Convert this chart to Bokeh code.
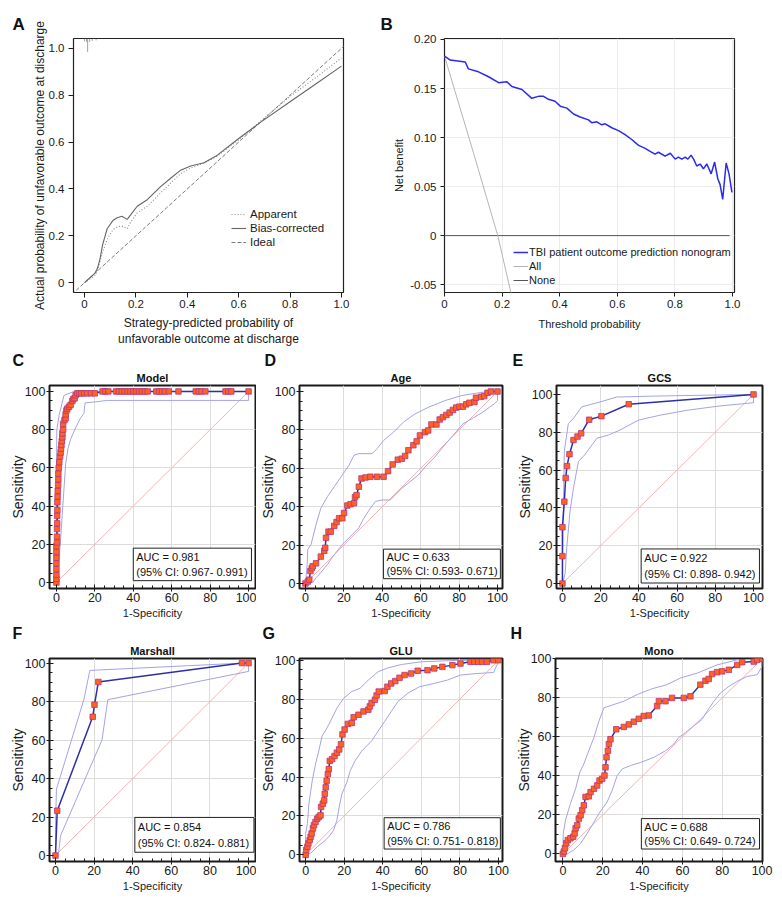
from bokeh.plotting import figure
from bokeh.layouts import column, row
from bokeh.models import (Label, BoxAnnotation, Legend, LegendItem, FixedTicker,
                          CustomJSTickFormatter, Range1d, Title)
from bokeh.embed import file_html
from bokeh.resources import INLINE

FONT = "Liberation Sans"

# ---------------- Panel A: calibration ----------------
A_app_x = [0, 0.02, 0.04, 0.05, 0.06, 0.07, 0.09, 0.11, 0.13, 0.15, 0.166, 0.18, 0.205, 0.244,
           0.296, 0.34, 0.374, 0.413, 0.465, 0.517, 0.6, 0.686, 0.8, 0.9, 1.0]
A_app_y = [0, 0.015, 0.03, 0.05, 0.09, 0.13, 0.19, 0.225, 0.24, 0.24, 0.23, 0.26, 0.298, 0.326,
           0.383, 0.43, 0.465, 0.49, 0.51, 0.54, 0.61, 0.69, 0.795, 0.875, 0.959]
A_bias_x = [0, 0.02, 0.04, 0.05, 0.06, 0.07, 0.088, 0.11, 0.127, 0.145, 0.166, 0.18, 0.205, 0.244,
            0.296, 0.34, 0.374, 0.413, 0.465, 0.517, 0.6, 0.686, 0.8, 0.9, 1.0]
A_bias_y = [0, 0.02, 0.04, 0.06, 0.10, 0.16, 0.23, 0.265, 0.277, 0.283, 0.27, 0.29, 0.326, 0.354,
            0.41, 0.45, 0.48, 0.498, 0.512, 0.544, 0.615, 0.685, 0.772, 0.848, 0.924]
A_ideal_x = [-0.05, 1.05]
A_ideal_y = [-0.05, 1.05]
A_rug_x = [0.0, 0.008, 0.012, 0.02, 0.03, 0.045]
A_rug_h = [0.012, 0.015, 0.058, 0.015, 0.01, 0.008]
A_ticks = [0, 0.2, 0.4, 0.6, 0.8, 1.0]

# ---------------- Panel B: decision curve ----------------
B_thr = [0, 0.02, 0.072, 0.083, 0.118, 0.153, 0.188, 0.216, 0.234, 0.269, 0.303, 0.326, 0.344,
         0.361, 0.384, 0.402, 0.425, 0.448, 0.471, 0.5, 0.512, 0.529, 0.546, 0.558, 0.581, 0.604,
         0.627, 0.65, 0.674, 0.697, 0.714, 0.731, 0.743, 0.766, 0.784, 0.801, 0.812, 0.824, 0.836,
         0.845, 0.856, 0.865, 0.876, 0.888, 0.899, 0.911, 0.926, 0.938, 0.949, 0.957, 0.966, 0.978,
         0.988, 0.998]
B_nb = [0.183, 0.179, 0.177, 0.170, 0.167, 0.162, 0.156, 0.157, 0.152, 0.149, 0.140, 0.142, 0.142,
        0.139, 0.137, 0.132, 0.130, 0.124, 0.121, 0.118, 0.115, 0.116, 0.113, 0.114, 0.110, 0.107,
        0.103, 0.098, 0.092, 0.089, 0.086, 0.083, 0.085, 0.081, 0.084, 0.078, 0.080, 0.078, 0.080,
        0.078, 0.082, 0.078, 0.071, 0.073, 0.068, 0.073, 0.063, 0.075, 0.058, 0.052, 0.037, 0.074,
        0.063, 0.044]
B_all_x = [0, 0.1, 0.185, 0.232]
B_all_y = [0.183, 0.085, 0.0, -0.060]
B_none_x = [0, 0.99]
B_none_y = [0, 0]
B_xticks = [0, 0.2, 0.4, 0.6, 0.8, 1.0]
B_yticks = [-0.05, 0, 0.05, 0.10, 0.15, 0.20]

# ---------------- ROC panels ----------------
ROC_ticks = [0, 20, 40, 60, 80, 100]
ROC_minor = list(range(0, 101, 5))
ROC_grid = [20, 40, 60, 80]
DIAG = [0, 100]

C_fpr = [0, 0, 0, 0, 0, 0, 0, 0,
         0.3, 0.3, 0.3, 0.4, 0.4, 0.5, 0.5, 0.6, 0.7, 0.9,
         1.0, 1.0, 1.2, 1.5, 1.9, 2.2, 2.4, 2.6, 2.8, 3.1,
         3.1, 3.5, 3.5, 4.2, 4.8, 4.8, 5.2, 5.7, 6.6, 7.4,
         8.3, 8.8, 9.5, 10.0, 10.9,
         12, 13, 14.5, 16, 18, 20,
         24, 25.5, 27, 31, 32.5, 34, 35.5, 37, 38.5, 40, 41.5, 43, 44.5, 46, 47.5,
         52, 53.5, 55, 56.5, 58.5, 63.5,
         72.5, 74, 75.5, 77.5,
         88, 89.5, 91, 100]
C_tpr = [0, 2, 4, 7, 10, 13, 16, 19,
         21, 24, 28, 31, 35, 38, 42, 45, 48, 51,
         54, 57, 60, 63, 66, 68, 70, 72, 74, 76,
         78, 80, 83, 85, 86, 88, 90, 91, 92, 93,
         95, 96, 96.5, 98, 99,
         99, 99, 99, 99, 99, 99,
         100, 100, 100, 100, 100, 100, 100, 100, 100, 100, 100, 100, 100, 100, 100,
         100, 100, 100, 100, 100, 100,
         100, 100, 100, 100,
         100, 100, 100, 100]
C_up_x = [0, 0, 0.2, 1.4, 3.9, 9.1, 100]
C_up_y = [0, 50, 80, 87.5, 97.9, 100, 100]
C_lo_x = [0, 1, 2, 3, 4, 4.8, 6, 7.4, 10, 12.5, 14.3, 14.9, 20, 26.5, 100, 100]
C_lo_y = [0, 8, 20, 35, 50, 62, 70, 75, 81, 86, 88.4, 94, 94.5, 95.3, 95.3, 100]

D_fpr = [0, 1.2, 2, 2.6, 3.3, 3.8, 5.5, 8, 9.8, 10.3, 10.7, 12, 13.2, 15, 16.2, 17.5, 19.2, 20.1,
         21.8, 23.5, 25.3, 25.8, 26.6, 27.8, 29.2, 31.3, 33.8, 37.3, 40.7, 43, 45.4, 48.1, 50.2,
         51.9, 53.6, 56.2, 57.9, 59.6, 62.2, 63.9, 65.6, 68.2, 69.9, 71.6, 73.4, 75.1, 76.8, 78.5,
         80.2, 82, 83.7, 85.4, 88, 88.8, 91.4, 93.1, 94.8, 96.6, 100]
D_tpr = [0, 1, 2, 6.5, 8, 9, 10.5, 14, 17, 18.6, 23.8, 27, 27, 30, 32, 34, 34, 36.7,
         40.6, 41.3, 41.8, 45, 46, 50.4, 54.7, 55.2, 55.6, 55.6, 55.6, 58.5, 62, 64.5, 65,
         66.4, 69.4, 72, 74, 77.1, 78.8, 79.7, 82.8, 82.8, 85.4, 86.6, 87.8, 89, 90.4, 91.6,
         92.1, 92.1, 93.3, 94.1, 94.5, 96.7, 97.2, 97.6, 99.3, 100, 100]
D_up_x = [0, 0.9, 1.2, 2.9, 5.5, 8, 11.5, 15, 19.2, 22.7, 25.3, 27.8, 34.7, 37.3, 40.7, 45.9, 51,
          57, 63.9, 72.5, 81.1, 91.4, 98.3, 100]
D_up_y = [0, 10, 17.7, 20.3, 30.6, 39.2, 45.3, 50.4, 56.5, 61.6, 66.8, 67.6, 67.6, 70.2, 74.5,
          78.8, 84, 88.3, 91.7, 95.2, 97.8, 99.5, 100, 100]
D_lo_x = [0, 3.8, 5.5, 8, 11.5, 15, 19.2, 23.5, 27.8, 30.4, 33.8, 36.4, 39.9, 44.2, 46.7, 50.2,
          54.5, 58.8, 63.1, 67.4, 71.6, 76.8, 82, 88, 92.3, 95.7, 98.3, 100, 100]
D_lo_y = [0, 0.5, 3, 5.7, 10, 15, 20.3, 24.6, 29, 34, 39.2, 42.7, 43.5, 43.5, 46.1, 49.6, 53,
          56.5, 61.6, 65.9, 71.1, 77.1, 83.1, 86.6, 89.2, 91.7, 93.5, 95.2, 100]

E_fpr = [0, 0, 0, 1.0, 1.7, 2.4, 3.7, 5.8, 7.9, 9.8, 14, 20.4, 34.7, 100]
E_tpr = [0, 14.5, 29.8, 43.3, 55.8, 62.1, 68.4, 75.9, 77.7, 79.4, 86.6, 88.5, 94.8, 100]
E_up_x = [0, 0.2, 1, 3.1, 5.8, 10.1, 19.7, 28.4, 47.6, 100]
E_up_y = [0, 21, 70, 84.6, 87.3, 93.4, 96, 98.6, 99.1, 100]
E_lo_x = [0, 1.4, 2.3, 4, 5.8, 8.4, 11, 13.6, 18, 24.1, 30.2, 39.8, 51.1, 65.1, 82.5, 100, 100]
E_lo_y = [0, 5.2, 19.2, 38.4, 50.6, 64.6, 67.2, 70.7, 76.8, 78.5, 81.2, 86.4, 89, 91.6, 93.9,
          95.6, 100]

F_fpr = [0, 0.9, 19.3, 20.2, 22.2, 96.6, 100]
F_tpr = [0, 23.3, 72.1, 78.4, 90.2, 100, 100]
F_up_x = [0, 0, 0.5, 14.7, 17.8, 96.6, 100]
F_up_y = [0, 15.5, 34.5, 81, 96.2, 100, 100]
F_lo_x = [0, 1.7, 2.6, 24.1, 27.1, 100, 100]
F_lo_y = [0, 1.7, 10.3, 60, 81, 95.7, 100]

G_fpr = [0, 0.3, 0.9, 1.4, 2.1, 2.6, 3.1, 3.8, 4.3, 5.1, 6, 6.8, 7.7, 8.0, 8.9, 9.6, 9.9, 10.4,
         10.9, 11.5, 12, 12.5, 13.7, 15, 16.2, 17.4, 18.3, 19.1, 20.2, 21.9, 23.9, 24.9, 27.4,
         30, 32.5, 33.3, 34.2, 35.9, 36.8, 37.9, 41, 42.4, 44.4, 46.5, 48.7, 51.3, 54.7, 58.1,
         63.2, 66.7, 70.9, 76.1, 80.3, 85.5, 87.5, 89.5, 91.5, 94, 97.4, 100]
G_tpr = [0, 2.5, 4.2, 5.9, 7.6, 9.3, 11, 13.6, 15.3, 16.9, 18.6, 19.5, 20.3, 24.6, 26.3, 28,
         31.4, 34.7, 38.1, 41.5, 44.1, 48.3, 49.2, 50.8, 52.5, 54.2, 56.8, 61.9, 64.4, 67.3,
         67.8, 70.7, 72, 73.7, 74.6, 76.3, 78, 79.7, 81.9, 83.9, 84.2, 86.4, 88.1, 89.3, 91,
         92.4, 93.2, 94.6, 94.9, 95.8, 96.6, 97.5, 98.3, 99.2, 99.2, 99.2, 99.2, 99.2, 100, 100]
G_up_x = [0, 0, 0.9, 1.7, 3.4, 5.1, 6.8, 8.5, 11.1, 13.7, 16.2, 19.7, 23.9, 28.2, 32.5, 37.6,
          42.7, 49.6, 59.8, 80.3, 100]
G_up_y = [0, 11, 16.1, 26.3, 38.1, 46.6, 53.4, 61, 65.3, 70.3, 75.4, 80.5, 83.9, 85.6, 89.8,
          94.1, 96.1, 97.8, 99.2, 100, 100]
G_lo_x = [0, 2.6, 6, 9.4, 12, 14.5, 16.2, 17.4, 18.8, 21.4, 23.1, 25.6, 29.1, 34.2, 37.6, 41,
          44.4, 47.9, 53, 59, 66.7, 73.5, 80.3, 88.9, 97.4, 100, 100]
G_lo_y = [0, 0.8, 4.2, 6.8, 9.3, 12.7, 17.8, 24.6, 31.4, 37.3, 43.2, 48.3, 53.4, 58.5, 63.6,
          68.6, 73.7, 78.8, 83.1, 86.4, 88.1, 89.8, 92.4, 93.2, 93.7, 99.2, 100]

H_fpr = [0, 0.5, 1, 1.7, 2.5, 3.8, 5.2, 5.9, 6.4, 7.2, 8, 8.9, 9.7, 10.5, 11.4, 13, 13.9, 15.6,
         17.2, 18.4, 19.7, 20.9, 21.4, 21.9, 22.6, 23.1, 23.9, 26.8, 30.6, 33.1, 35.6, 38.1,
         40.6, 43.1, 47.3, 48.2, 51.5, 54.8, 60.7, 64, 69, 71.6, 73.2, 74.9, 77.4, 79.9, 83.3,
         87.5, 90, 95.8, 97.5, 100]
H_tpr = [0, 1.2, 2.9, 5.4, 7.1, 8, 8.8, 10.5, 13.1, 14.7, 18.1, 19.8, 22.4, 24.9, 29.2, 29.5,
         31.7, 33.4, 35.1, 37.6, 38.5, 40.2, 44.4, 49.5, 52.9, 56.3, 58.8, 63.9, 65.1, 66.4,
         67.8, 69.3, 70.7, 71, 75.8, 78.3, 78.3, 80, 80, 80.8, 86.8, 88.8, 89.7, 92.2, 93.2,
         93.6, 94.4, 96.9, 98.3, 98.6, 99.5, 100]
H_up_x = [0, 0.2, 1.3, 3.8, 6.4, 8.5, 10.5, 13, 15.6, 18.1, 20.6, 24.7, 30.6, 37.3, 44.8, 52.3,
          59, 67.4, 77.4, 87.5, 100]
H_up_y = [0, 10.5, 17.3, 25.8, 33.4, 41.9, 46.1, 52.9, 59.7, 68.1, 74.9, 76.3, 78.3, 81.7,
          84.7, 86.8, 90.2, 92.7, 96.9, 99.5, 100]
H_lo_x = [0, 2.2, 5.5, 8.9, 12.2, 14.7, 18.1, 22.2, 24.7, 27.3, 29.8, 34, 39, 45.7, 51.5, 55.7,
          58.2, 61.5, 65.7, 69.9, 72.4, 75.8, 79.1, 83.3, 87.5, 92.5, 97.5, 100, 100]
H_lo_y = [0, 0, 2, 5.4, 10.5, 14.7, 20.7, 26.6, 32.5, 40.2, 43.6, 45.3, 46.9, 49.5, 52.9, 56.3,
          59.7, 62.2, 65.6, 69, 73.2, 78.3, 82.5, 85.9, 88.5, 91, 91.9, 96.1, 100]

AUC_text = {"C": ("AUC = 0.981", "(95% CI: 0.967- 0.991)"),
            "D": ("AUC = 0.633", "(95% CI: 0.593- 0.671)"),
            "E": ("AUC = 0.922", "(95% CI: 0.898- 0.942)"),
            "F": ("AUC = 0.854", "(95% CI: 0.824- 0.881)"),
            "G": ("AUC = 0.786", "(95% CI: 0.751- 0.818)"),
            "H": ("AUC = 0.688", "(95% CI: 0.649- 0.724)")}


def base_fig(width, height, left, top, frame_w, frame_h, xr, yr, title=None):
    p = figure(width=width, height=height, x_range=Range1d(*xr), y_range=Range1d(*yr),
               output_backend="svg", toolbar_location=None, title=title,
               min_border_left=left, min_border_top=top,
               min_border_right=width - left - frame_w,
               min_border_bottom=height - top - frame_h)
    p.background_fill_color = "white"
    p.border_fill_color = "white"
    return p


def style_axis(ax, ticks, label_size, tick_size, tin, tout, std, lstd, formatter=None, minor=None):
    ax.ticker = FixedTicker(ticks=ticks, minor_ticks=minor or [])
    if formatter is not None:
        ax.formatter = formatter
    ax.axis_line_color = None
    ax.major_tick_in = tin
    ax.major_tick_out = tout
    ax.major_tick_line_color = "#1a1a1a"
    ax.minor_tick_line_color = "#1a1a1a" if minor else None
    ax.minor_tick_in = 3
    ax.minor_tick_out = 0
    ax.major_label_text_font = FONT
    ax.major_label_text_font_size = tick_size
    ax.major_label_text_color = "#1a1a1a"
    ax.major_label_standoff = std
    ax.axis_label_text_font = FONT
    ax.axis_label_text_font_size = label_size
    ax.axis_label_text_font_style = "normal"
    ax.axis_label_text_color = "#1a1a1a"
    ax.axis_label_standoff = lstd


def letter_title(t, offset, standoff, size):
    t.text_font = FONT
    t.text_font_size = size
    t.text_font_style = "bold"
    t.text_color = "#111111"
    t.align = "left"
    t.offset = offset
    t.standoff = standoff


# ---------- A ----------
pA = base_fig(378, 349, 73, 37, 270, 257, (-0.043, 1.008), (-0.042, 1.042), title="A")
letter_title(pA.title, -61, 9, "17px")
fmt1 = CustomJSTickFormatter(code="return Math.abs(tick) < 1e-9 ? '0' : tick.toFixed(1);")
style_axis(pA.xaxis[0], A_ticks, "12px", "11.5px", 0, 5, 2, 5, fmt1)
style_axis(pA.yaxis[0], A_ticks, "12px", "11.5px", 0, 5, 4, -1, fmt1)
pA.xaxis.axis_label = "Strategy-predicted probability of\nunfavorable outcome at discharge"
pA.yaxis.axis_label = "Actual probability of unfavorable outcome at discharge"
pA.xgrid.visible = False
pA.ygrid.visible = False
pA.outline_line_color = "#222222"
pA.outline_line_width = 1.2
rug_top = pA.y_range.end
pA.segment(x0=A_rug_x, y0=[rug_top] * len(A_rug_x), x1=A_rug_x,
           y1=[rug_top - h for h in A_rug_h], line_color="#8a8a8a", line_width=0.8)
r_ideal = pA.line(A_ideal_x, A_ideal_y, line_color="#7a7a7a", line_dash="4 2", line_width=1)
r_app = pA.line(A_app_x, A_app_y, line_color="#8c8c8c", line_dash="1 2", line_width=1.1)
r_bias = pA.line(A_bias_x, A_bias_y, line_color="#666666", line_width=1.1)
legA = Legend(items=[LegendItem(label="Apparent", renderers=[r_app]),
                     LegendItem(label="Bias-corrected", renderers=[r_bias]),
                     LegendItem(label="Ideal", renderers=[r_ideal])],
              location=(158, 43), label_text_font=FONT, label_text_font_size="11.5px",
              label_text_color="#1a1a1a", glyph_width=15, glyph_height=14, label_height=14,
              label_standoff=4, spacing=0, padding=0, margin=0, border_line_color=None,
              background_fill_alpha=0)
pA.add_layout(legA)

# ---------- B ----------
pB = base_fig(400, 349, 66, 38, 290, 256, (0, 1.007), (-0.058, 0.201), title="B")
letter_title(pB.title, -64, 10, "17px")
fmt2 = CustomJSTickFormatter(code="return Math.abs(tick) < 1e-9 ? '0' : tick.toFixed(2);")
style_axis(pB.xaxis[0], B_xticks, "11px", "11.5px", 0, 4, 3, 7, fmt1)
style_axis(pB.yaxis[0], B_yticks, "11px", "11.5px", 0, 4, 4, 2, fmt2)
pB.xaxis.axis_label = "Threshold probability"
pB.yaxis.axis_label = "Net benefit"
pB.xgrid.grid_line_color = "#ececec"
pB.ygrid.grid_line_color = "#ececec"
pB.outline_line_color = "#222222"
pB.outline_line_width = 1.2
r_none = pB.line(B_none_x, B_none_y, line_color="#555555", line_width=1)
r_all = pB.line(B_all_x, B_all_y, line_color="#b5b5b5", line_width=1)
r_nb = pB.line(B_thr, B_nb, line_color="#2a2af2", line_width=1.5)
legB = Legend(items=[LegendItem(label="TBI patient outcome prediction nonogram", renderers=[r_nb]),
                     LegendItem(label="All", renderers=[r_all]),
                     LegendItem(label="None", renderers=[r_none])],
              location=(69, 5), label_text_font=FONT, label_text_font_size="11px",
              label_text_color="#1a1a1a", glyph_width=15, glyph_height=14, label_height=14,
              label_standoff=1, spacing=0, padding=0, margin=0, border_line_color=None,
              background_fill_alpha=0)
pB.add_layout(legB)


# ---------- ROC ----------
def roc_panel(key, name, fpr, tpr, ux, uy, lx, ly, width, left, frame_w, top, frame_h,
              xr, yr, box, letter_x):
    p = base_fig(width, 273, left, top, frame_w, frame_h, xr, yr, title=key)
    letter_title(p.title, letter_x - left, 0, "16px")
    nt = Title(text=name, text_font=FONT, text_font_size="11px", text_font_style="bold",
               text_color="#111111", align="center", standoff=3)
    p.add_layout(nt, "above")
    style_axis(p.xaxis[0], ROC_ticks, "11px", "12.5px", 4, 3, 1, 2, minor=ROC_minor)
    style_axis(p.yaxis[0], ROC_ticks, "14px", "12.5px", 4, 3, 1, -4, minor=ROC_minor)
    p.xaxis.axis_label = "1-Specificity"
    p.yaxis.axis_label = "Sensitivity"
    p.xgrid.ticker = FixedTicker(ticks=ROC_grid)
    p.ygrid.ticker = FixedTicker(ticks=ROC_grid)
    p.xgrid.grid_line_color = "#dcdcdc"
    p.ygrid.grid_line_color = "#dcdcdc"
    p.outline_line_color = "#1a1a1a"
    p.outline_line_width = 2
    p.line(DIAG, DIAG, line_color="#f4b4b4", line_width=1)
    p.line(ux, uy, line_color="#a3a3e6", line_width=1)
    p.line(lx, ly, line_color="#a3a3e6", line_width=1)
    p.line(fpr, tpr, line_color="#2e2eaa", line_width=1.5)
    p.scatter(fpr, tpr, marker="square", size=5.5, fill_color="#ff6222",
              line_color="#b8367a", line_width=0.8)
    bl, br, bb, bt = box
    p.add_layout(BoxAnnotation(left=bl, right=br, bottom=bb, top=bt, fill_color="white",
                               fill_alpha=1, line_color="#222222", line_width=1,
                               line_alpha=1))
    t1, t2 = AUC_text[key]
    for txt, frac in ((t1, 0.73), (t2, 0.26)):
        p.add_layout(Label(x=bl, y=bb + frac * (bt - bb), x_offset=3, text=txt,
                           text_font=FONT, text_font_size="11px", text_baseline="middle",
                           text_color="#111111"))
    return p


pC = roc_panel("C", "Model", C_fpr, C_tpr, C_up_x, C_up_y, C_lo_x, C_lo_y,
               256, 49, 206, 34, 205, (-3.6, 103.6), (-3.1, 103.1), (40, 101.5, 1.0, 18.0), 12)
pD = roc_panel("D", "Age", D_fpr, D_tpr, D_up_x, D_up_y, D_lo_x, D_lo_y,
               254, 41, 205, 34, 205, (-3.1, 102.6), (-2.6, 103.1), (40.6, 101.5, 2.5, 17.9), 6)
pE = roc_panel("E", "GCS", E_fpr, E_tpr, E_up_x, E_up_y, E_lo_x, E_lo_y,
               268, 46, 206, 34, 205, (-3.1, 104.7), (-2.6, 104.7), (41.2, 103.1, 0.3, 18.3), 2)
pF = roc_panel("F", "Marshall", F_fpr, F_tpr, F_up_x, F_up_y, F_lo_x, F_lo_y,
               256, 49, 206, 35, 204, (-3.1, 103.6), (-3.1, 102.4), (41.1, 102.8, 1.7, 19.8), 12)
pG = roc_panel("G", "GLU", G_fpr, G_tpr, G_up_x, G_up_y, G_lo_x, G_lo_y,
               254, 41, 205, 34, 205, (-3.2, 102.1), (-3.4, 100.9), (40.7, 101.0, 3.0, 19.1), 4)
pH = roc_panel("H", "Mono", H_fpr, H_tpr, H_up_x, H_up_y, H_lo_x, H_lo_y,
               268, 45, 207, 34, 205, (-3.7, 100.2), (-3.9, 100.2), (39.4, 98.7, 2.5, 18.1), 0)

layout = column(row(pA, pB), row(pC, pD, pE), row(pF, pG, pH))
open("out.html", "w").write(file_html(layout, INLINE))
